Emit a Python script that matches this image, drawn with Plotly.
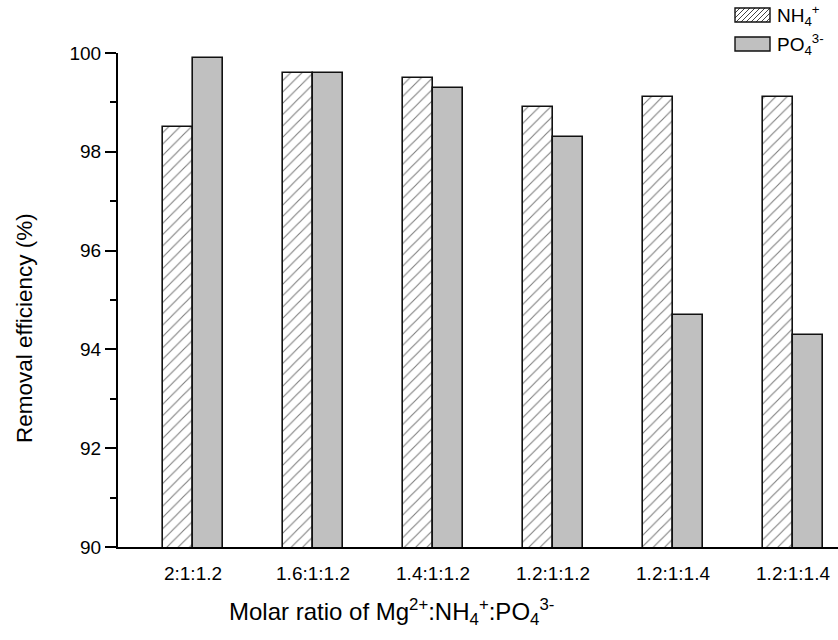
import plotly.graph_objects as go

# Molar ratio groups and removal efficiencies (%)
ratios = ["2:1:1.2", "1.6:1:1.2", "1.4:1:1.2", "1.2:1:1.2", "1.2:1:1.4", "1.2:1:1.4"]
nh4_removal = [98.5, 99.6, 99.5, 98.9, 99.1, 99.1]
po4_removal = [99.9, 99.6, 99.3, 98.3, 94.7, 94.3]

FONT = "Arial, Liberation Sans, sans-serif"
W, H = 838, 640
L, R, T, B = 118, 0, 53, 93
PW, PH = W - L - R, H - T - B

pos = list(range(len(ratios)))
bar_w = 0.25


def px(x):
    return (x - L) / PW


def py(y):
    return (H - B - y) / PH


fig = go.Figure()
fig.add_trace(go.Bar(
    x=pos, y=nh4_removal, width=bar_w, offset=-bar_w / 2,
    marker=dict(color="white",
                pattern=dict(shape="/", fgcolor="black", bgcolor="white", size=8, solidity=0.14),
                line=dict(color="#111", width=1.6)),
    showlegend=False, name="NH4+",
))
fig.add_trace(go.Bar(
    x=pos, y=po4_removal, width=bar_w, offset=bar_w / 2,
    marker=dict(color="#c0c0c0", line=dict(color="#111", width=1.6)),
    showlegend=False, name="PO43-",
))

# legend drawn by hand: wide swatches with hatching
shapes = []
sx0, sx1 = 735, 770
for (y0, y1, hatched) in [(8, 22, True), (37, 51, False)]:
    shapes.append(dict(type="rect", xref="paper", yref="paper",
                       x0=px(sx0), x1=px(sx1), y0=py(y1), y1=py(y0),
                       fillcolor="white" if hatched else "#c0c0c0",
                       line=dict(color="#111", width=1.4), layer="above"))
    if hatched:
        step = 5
        h = y1 - y0
        c = sx0 - h
        while c < sx1:
            # segment of line from (c, y1) to (c+h, y0), clipped to the box
            xa, ya = c, y1
            xb, yb = c + h, y0
            if xa < sx0:
                ya -= (sx0 - xa)
                xa = sx0
            if xb > sx1:
                yb += (xb - sx1)
                xb = sx1
            if xb > xa:
                shapes.append(dict(type="line", xref="paper", yref="paper",
                                   x0=px(xa), y0=py(ya), x1=px(xb), y1=py(yb),
                                   line=dict(color="#111", width=0.8)))
            c += step

annotations = [
    dict(text="NH<sub>4</sub><sup>+</sup>", xref="paper", yref="paper",
         x=px(775), y=py(15), xanchor="left", yanchor="middle", showarrow=False,
         font=dict(family=FONT, size=19, color="black")),
    dict(text="PO<sub>4</sub><sup>3-</sup>", xref="paper", yref="paper",
         x=px(775), y=py(44), xanchor="left", yanchor="middle", showarrow=False,
         font=dict(family=FONT, size=19, color="black")),
    dict(text="Removal efficiency (%)", xref="paper", yref="paper",
         x=px(24), y=py(328), xanchor="center", yanchor="middle", textangle=-90,
         showarrow=False, font=dict(family=FONT, size=22.5, color="black")),
    dict(text="Molar ratio of Mg<sup>2+</sup>:NH<sub>4</sub><sup>+</sup>:PO<sub>4</sub><sup>3-</sup>",
         xref="paper", yref="paper", x=px(391), y=py(612), xanchor="center", yanchor="middle",
         showarrow=False, font=dict(family=FONT, size=24, color="black")),
]

fig.update_layout(
    width=W, height=H,
    margin=dict(l=L, r=R, t=T, b=B),
    paper_bgcolor="white", plot_bgcolor="white",
    barmode="overlay", bargap=0,
    shapes=shapes, annotations=annotations,
    font=dict(family=FONT, size=19, color="black"),
)
fig.update_xaxes(
    range=[-0.5, len(ratios) - 0.5],
    tickvals=[p + bar_w / 2 for p in pos], ticktext=ratios,
    ticks="", showgrid=False, zeroline=False,
    showline=True, linecolor="black", linewidth=2,
    tickfont=dict(family=FONT, size=19), ticklabelstandoff=8,
)
fig.update_yaxes(
    range=[90, 100], dtick=2, tick0=90,
    ticks="outside", ticklen=11, tickwidth=2, tickcolor="black",
    minor=dict(dtick=1, ticks="outside", ticklen=6, tickwidth=2, tickcolor="black"),
    showgrid=False, zeroline=False,
    showline=True, linecolor="black", linewidth=2,
    tickfont=dict(family=FONT, size=19),
)

fig.write_html("out.html")
